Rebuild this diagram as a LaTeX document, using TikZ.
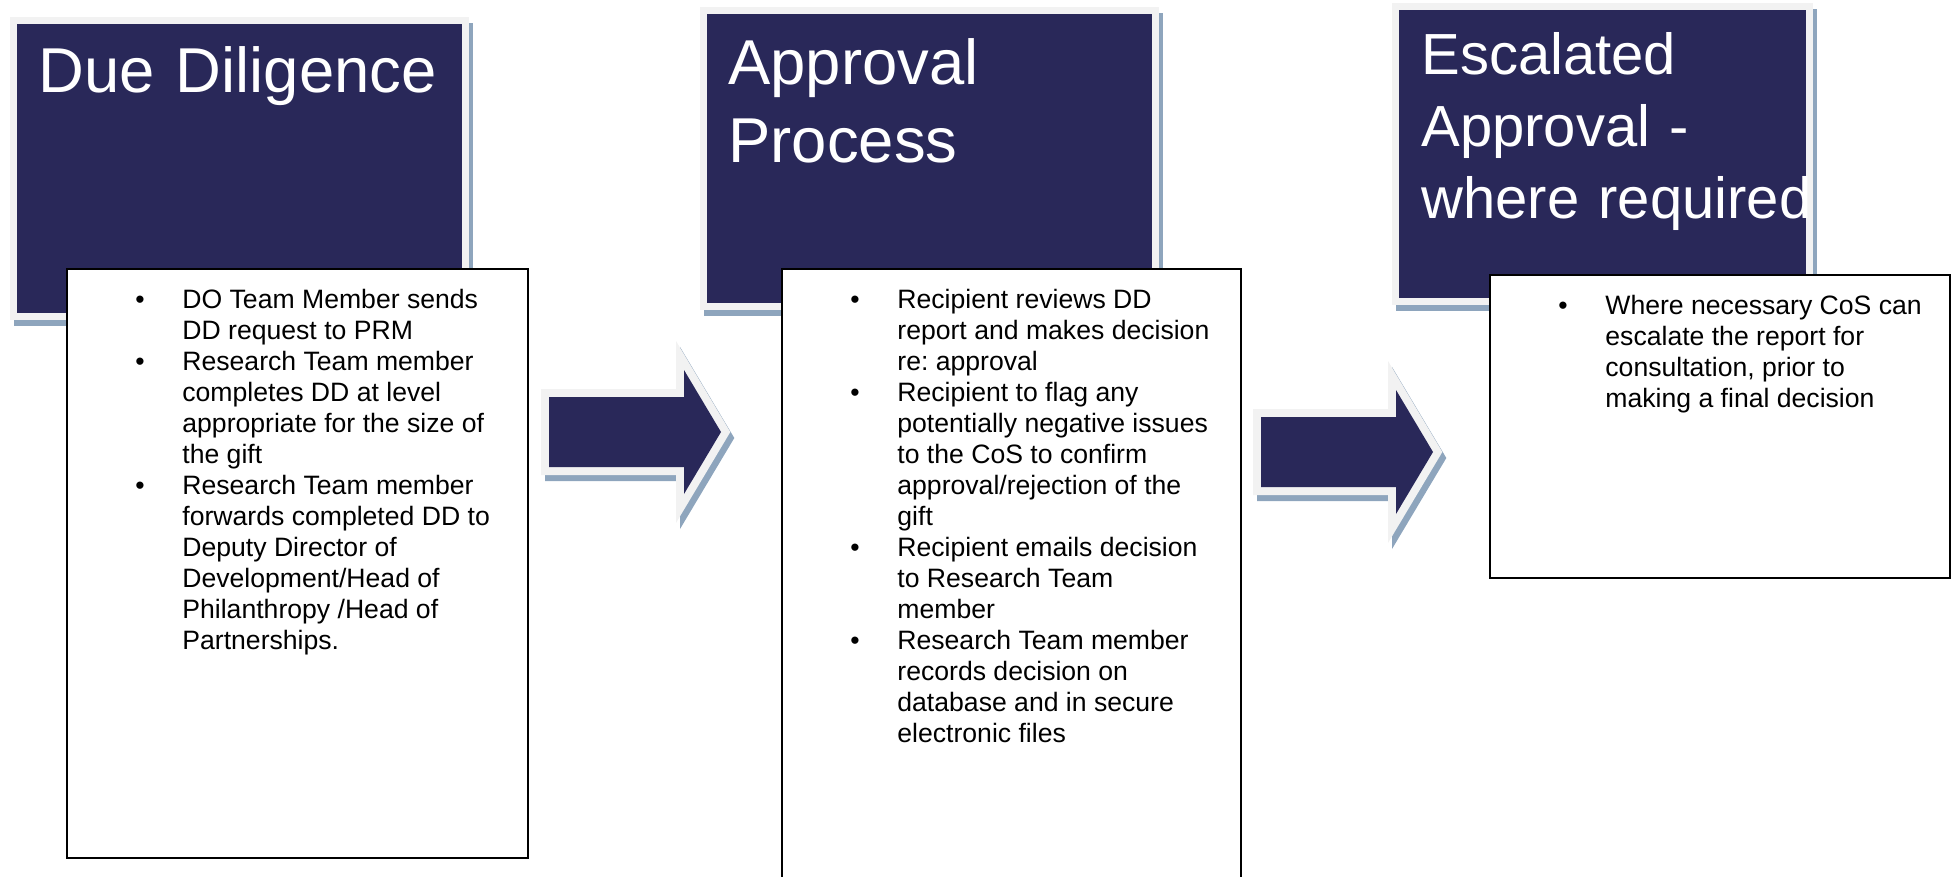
\documentclass[tikz,border=0pt]{standalone}
\usepackage{fontspec}
\setmainfont{Liberation Sans}
\definecolor{navyblue}{RGB}{41,40,89}
\definecolor{framegray}{RGB}{242,242,242}
\definecolor{shadeblue}{RGB}{142,165,189}
\tikzset{
  shadeframe/.style={draw=shadeblue, fill=shadeblue, shift={(4,6)}},
  grayframe/.style={draw=framegray, fill=framegray},
  listbox/.style={draw=black, fill=white, line width=1pt},
  headtext/.style={text=white, anchor=base west, inner sep=0pt, text width=215pt, align=left},
  listtext/.style={anchor=base west, inner sep=0pt, font=\fontsize{13.3}{15.5}\selectfont\frenchspacing},
}
\newcommand{\headbox}[4]{ \filldraw[shadeframe, line width=7pt] ( #1 , #2 ) rectangle ( #3 , #4 ); \filldraw[grayframe, line width=7pt] ( #1 , #2 ) rectangle ( #3 , #4 ); \fill[navyblue] ( #1 , #2 ) rectangle ( #3 , #4 );}
\newcommand{\listbox}[4]{ \filldraw[listbox] ( #1 , #2 ) rectangle ( #3 , #4 );}
\newcommand{\arrowpath}[2]{( #1 , #2 - 35 ) -- ( #1 + 135 , #2 - 35 ) -- ( #1 + 135 , #2 - 62 ) -- ( #1 + 172 , #2 ) -- ( #1 + 135 , #2 + 62 ) -- ( #1 + 135 , #2 + 35 ) -- ( #1 , #2 + 35 ) -- cycle}
\newcommand{\blockarrow}[2]{ \filldraw[shadeframe, line width=8pt] \arrowpath{#1}{#2}; \filldraw[grayframe, line width=8pt] \arrowpath{#1}{#2}; \fill[navyblue] \arrowpath{#1}{#2};}
\begin{document}
\begin{tikzpicture}[x=0.5pt,y=-0.5pt]
        \useasboundingbox (0,0) rectangle (1952,877);
        \clip (0,0) rectangle (1952,877);
        % headers
        \headbox{17}{24}{462}{313}
        \headbox{707}{14}{1152}{303}
        \headbox{1399}{10}{1806}{298}
        \node[headtext, font=\fontsize{31.7}{39}\selectfont] (hdrdue) at (38,93) {Due Diligence};
        \node[headtext, font=\fontsize{31.7}{39}\selectfont] (hdrapproval) at (728,85) {Approval\\Process};
        \node[headtext, font=\fontsize{29}{36}\selectfont] (hdrescalate) at (1421,75) {Escalated\\Approval -\\where required};
        % arrows
        \blockarrow{549}{432}
        \blockarrow{1261}{452}
        % boxes
        \listbox{67}{269}{528}{858}
        \listbox{782}{269}{1241}{900}
        \listbox{1490}{275}{1950}{578}
        % box texts
        \node[listtext] (ddlist) at (135,308) {\begin{tabular}[t]{@{}p{23.5pt}@{}l@{}}
          \textbullet & DO Team Member sends\\
                      & DD request to PRM\\
          \textbullet & Research Team member\\
                      & completes DD at level\\
                      & appropriate for the size of\\
                      & the gift\\
          \textbullet & Research Team member\\
                      & forwards completed DD to\\
                      & Deputy Director of\\
                      & Development/Head of\\
                      & Philanthropy /Head of\\
                      & Partnerships.
        \end{tabular}};
        \node[listtext] (approvallist) at (850,308) {\begin{tabular}[t]{@{}p{23.5pt}@{}l@{}}
          \textbullet & Recipient reviews DD\\
                      & report and makes decision\\
                      & re: approval\\
          \textbullet & Recipient to flag any\\
                      & potentially negative issues\\
                      & to the CoS to confirm\\
                      & approval/rejection of the\\
                      & gift\\
          \textbullet & Recipient emails decision\\
                      & to Research Team\\
                      & member\\
          \textbullet & Research Team member\\
                      & records decision on\\
                      & database and in secure\\
                      & electronic files
        \end{tabular}};
        \node[listtext] (escalatelist) at (1558,314) {\begin{tabular}[t]{@{}p{23.5pt}@{}l@{}}
          \textbullet & Where necessary CoS can\\
                      & escalate the report for\\
                      & consultation, prior to\\
                      & making a final decision
        \end{tabular}};
\end{tikzpicture}
\end{document}
